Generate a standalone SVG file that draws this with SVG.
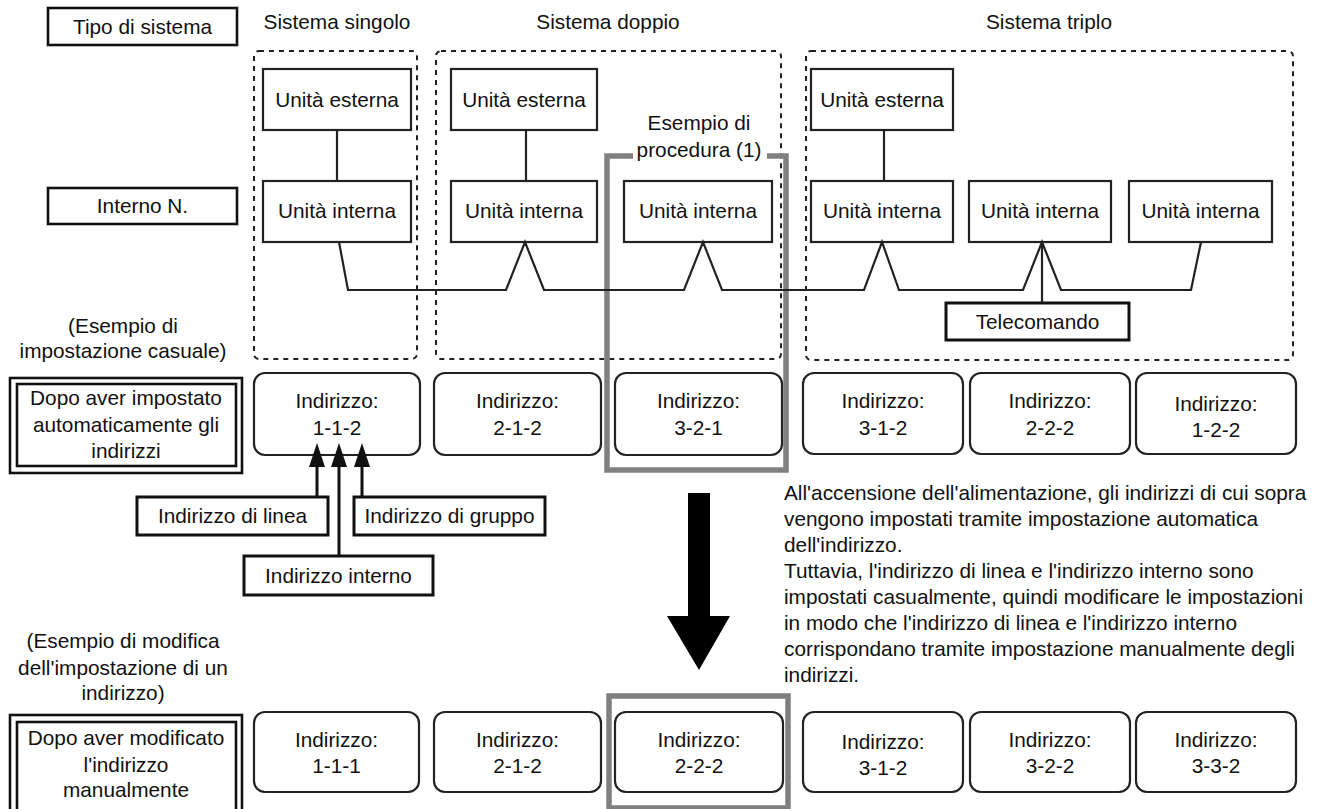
<svg xmlns="http://www.w3.org/2000/svg" width="1324" height="809" viewBox="0 0 1324 809">
  <style>
    text { font-family: "Liberation Sans", Arial, sans-serif; font-size: 20.8px; fill: #111; text-anchor: middle; }
    .para { text-anchor: start; }
    .unit { fill: #fff; stroke: #222; stroke-width: 2.2; }
    .tag { fill: #fff; stroke: #111; stroke-width: 3; }
    .hdr { fill: #fff; stroke: #111; stroke-width: 2.6; }
    .addr { fill: #fff; stroke: #222; stroke-width: 2.2; }
    .group { fill: none; stroke: #222; stroke-width: 2; stroke-dasharray: 5 5; }
    .frame { fill: none; stroke: #808080; stroke-width: 5.5; }
    .wire { fill: none; stroke: #222; stroke-width: 2.2; stroke-linejoin: miter; }
    .pointer { fill: none; stroke: #111; stroke-width: 3; }
  </style>
  <defs>
    <!-- solid triangular head, tip along the line direction -->
    <marker id="head" markerUnits="userSpaceOnUse" markerWidth="24" markerHeight="16" refX="0" refY="8" orient="auto" viewBox="0 0 24 16">
      <path d="M24 8 L0 0 L0 16 Z" fill="#111"/>
    </marker>
  </defs>

  <!-- row headings -->
  <g id="tipo-sistema">
    <rect class="hdr" x="48" y="8" width="189" height="37"/>
    <text x="142.5" y="34">Tipo di sistema</text>
  </g>
  <g id="interno-n">
    <rect class="hdr" x="48" y="188" width="189" height="36"/>
    <text x="142.5" y="213">Interno N.</text>
  </g>

  <!-- system titles -->
  <text x="337" y="29">Sistema singolo</text>
  <text x="608" y="29">Sistema doppio</text>
  <text x="1049" y="29">Sistema triplo</text>

  <!-- system groupings -->
  <g id="sistema-singolo">
    <rect class="group" x="254" y="51" width="163" height="308" rx="5"/>
  </g>
  <g id="sistema-doppio">
    <rect class="group" x="436" y="51" width="345" height="308" rx="5"/>
  </g>
  <g id="sistema-triplo">
    <rect class="group" x="806" y="51" width="487" height="309" rx="5"/>
  </g>

  <!-- outdoor units -->
  <g id="esterna-1">
    <rect class="unit" x="263" y="69" width="148" height="61"/>
    <text x="337" y="107">Unità esterna</text>
  </g>
  <g id="esterna-2">
    <rect class="unit" x="451" y="69" width="146" height="61"/>
    <text x="524" y="107">Unità esterna</text>
  </g>
  <g id="esterna-3">
    <rect class="unit" x="811" y="69" width="142" height="61"/>
    <text x="882" y="107">Unità esterna</text>
  </g>

  <!-- indoor units -->
  <g id="interna-1">
    <rect class="unit" x="263" y="181" width="148" height="61"/>
    <text x="337" y="218">Unità interna</text>
  </g>
  <g id="interna-2">
    <rect class="unit" x="451" y="181" width="146" height="61"/>
    <text x="524" y="218">Unità interna</text>
  </g>
  <g id="interna-3">
    <rect class="unit" x="624" y="181" width="148" height="61"/>
    <text x="698" y="218">Unità interna</text>
  </g>
  <g id="interna-4">
    <rect class="unit" x="811" y="181" width="142" height="61"/>
    <text x="882" y="218">Unità interna</text>
  </g>
  <g id="interna-5">
    <rect class="unit" x="969" y="181" width="142" height="61"/>
    <text x="1040" y="218">Unità interna</text>
  </g>
  <g id="interna-6">
    <rect class="unit" x="1129" y="181" width="143" height="61"/>
    <text x="1200.5" y="218">Unità interna</text>
  </g>

  <g id="telecomando">
    <rect class="tag" x="946" y="303" width="183" height="37"/>
    <text x="1037.5" y="329">Telecomando</text>
  </g>

  <!-- procedure highlight -->
  <g id="procedura-1">
    <polyline class="frame" points="633,156 607,156 607,470 786,470 786,156 767,156"/>
    <text x="699" y="130">Esempio di</text>
    <text x="699" y="157">procedura (1)</text>
  </g>

  <!-- automatic addressing row -->
  <text x="123" y="333">(Esempio di</text>
  <text x="123" y="358">impostazione casuale)</text>
  <g id="dopo-auto">
    <rect class="hdr" x="10" y="378" width="232" height="95"/>
    <rect class="hdr" x="17" y="384" width="219" height="82"/>
    <text x="126" y="405">Dopo aver impostato</text>
    <text x="126" y="432">automaticamente gli</text>
    <text x="126" y="458">indirizzi</text>
  </g>
  <g id="addr-a1"><rect class="addr" x="254" y="373" width="166" height="82" rx="11"/><text x="337" y="408">Indirizzo:</text><text x="337" y="435">1-1-2</text></g>
  <g id="addr-a2"><rect class="addr" x="434" y="373" width="167" height="82" rx="11"/><text x="517.5" y="408">Indirizzo:</text><text x="517.5" y="435">2-1-2</text></g>
  <g id="addr-a3"><rect class="addr" x="615" y="373" width="167" height="82" rx="11"/><text x="698.5" y="408">Indirizzo:</text><text x="698.5" y="435">3-2-1</text></g>
  <g id="addr-a4"><rect class="addr" x="803" y="373" width="160" height="81" rx="11"/><text x="883" y="408">Indirizzo:</text><text x="883" y="435">3-1-2</text></g>
  <g id="addr-a5"><rect class="addr" x="970" y="373" width="160" height="81" rx="11"/><text x="1050" y="408">Indirizzo:</text><text x="1050" y="435">2-2-2</text></g>
  <g id="addr-a6"><rect class="addr" x="1136" y="373" width="160" height="81" rx="11"/><text x="1216" y="411">Indirizzo:</text><text x="1216" y="437">1-2-2</text></g>

  <!-- address part labels -->
  <g id="indirizzo-linea">
    <rect class="tag" x="137" y="497" width="191" height="38"/>
    <text x="232.5" y="523">Indirizzo di linea</text>
  </g>
  <g id="indirizzo-gruppo">
    <rect class="tag" x="354" y="497" width="191" height="38"/>
    <text x="449.5" y="523">Indirizzo di gruppo</text>
  </g>
  <g id="indirizzo-interno">
    <rect class="tag" x="244" y="556" width="189" height="39"/>
    <text x="338.5" y="583">Indirizzo interno</text>
  </g>

  <!-- transition arrow -->
  <g id="freccia">
    <polygon points="688,493 710,493 710,616 730,616 699,670 667,616 688,616" fill="#000"/>
  </g>

  <!-- explanatory note -->
  <g id="nota">
    <text class="para" x="784" y="500">All'accensione dell'alimentazione, gli indirizzi di cui sopra</text>
    <text class="para" x="784" y="526">vengono impostati tramite impostazione automatica</text>
    <text class="para" x="784" y="552">dell'indirizzo.</text>
    <text class="para" x="784" y="578">Tuttavia, l'indirizzo di linea e l'indirizzo interno sono</text>
    <text class="para" x="784" y="604">impostati casualmente, quindi modificare le impostazioni</text>
    <text class="para" x="784" y="630">in modo che l'indirizzo di linea e l'indirizzo interno</text>
    <text class="para" x="784" y="656">corrispondano tramite impostazione manualmente degli</text>
    <text class="para" x="784" y="682">indirizzi.</text>
  </g>

  <!-- manual addressing row -->
  <text x="123" y="648">(Esempio di modifica</text>
  <text x="123" y="675">dell'impostazione di un</text>
  <text x="123" y="700">indirizzo)</text>
  <g id="dopo-manuale">
    <rect class="hdr" x="10" y="715" width="232" height="110"/>
    <rect class="hdr" x="17" y="722" width="219" height="100"/>
    <text x="126" y="745">Dopo aver modificato</text>
    <text x="126" y="772">l'indirizzo</text>
    <text x="126" y="797">manualmente</text>
  </g>
  <g id="procedura-1-esito">
    <rect class="frame" x="609" y="696" width="179" height="112"/>
  </g>
  <g id="addr-b1"><rect class="addr" x="254" y="712" width="165" height="80" rx="11"/><text x="336.5" y="747">Indirizzo:</text><text x="336.5" y="773">1-1-1</text></g>
  <g id="addr-b2"><rect class="addr" x="434" y="712" width="167" height="80" rx="11"/><text x="517.5" y="747">Indirizzo:</text><text x="517.5" y="773">2-1-2</text></g>
  <g id="addr-b3"><rect class="addr" x="615" y="712" width="168" height="80" rx="11"/><text x="699" y="747">Indirizzo:</text><text x="699" y="773">2-2-2</text></g>
  <g id="addr-b4"><rect class="addr" x="803" y="712" width="160" height="80" rx="11"/><text x="883" y="749">Indirizzo:</text><text x="883" y="775">3-1-2</text></g>
  <g id="addr-b5"><rect class="addr" x="970" y="712" width="160" height="80" rx="11"/><text x="1050" y="747">Indirizzo:</text><text x="1050" y="773">3-2-2</text></g>
  <g id="addr-b6"><rect class="addr" x="1136" y="712" width="160" height="80" rx="11"/><text x="1216" y="747">Indirizzo:</text><text x="1216" y="773">3-3-2</text></g>

  <!-- connectors, drawn last so the pointer heads sit over the address box -->
  <g id="connectors">
    <line class="wire" x1="337" y1="130" x2="337" y2="181"/>
    <line class="wire" x1="526" y1="130" x2="526" y2="181"/>
    <line class="wire" x1="884" y1="130" x2="884" y2="181"/>
    <polyline class="wire" points="339,242 348,290 506,290 525,242 544,290 684,290 703,242 722,290 864,290 882,242 899,290 1023,290 1042,242 1061,290 1191,290 1201,242"/>
    <line class="wire" x1="1042" y1="242" x2="1042" y2="303"/>
    <line class="pointer" x1="317" y1="497" x2="317" y2="467" marker-end="url(#head)"/>
    <line class="pointer" x1="339" y1="556" x2="339" y2="467" marker-end="url(#head)"/>
    <line class="pointer" x1="362" y1="497" x2="362" y2="467" marker-end="url(#head)"/>
  </g>
</svg>
